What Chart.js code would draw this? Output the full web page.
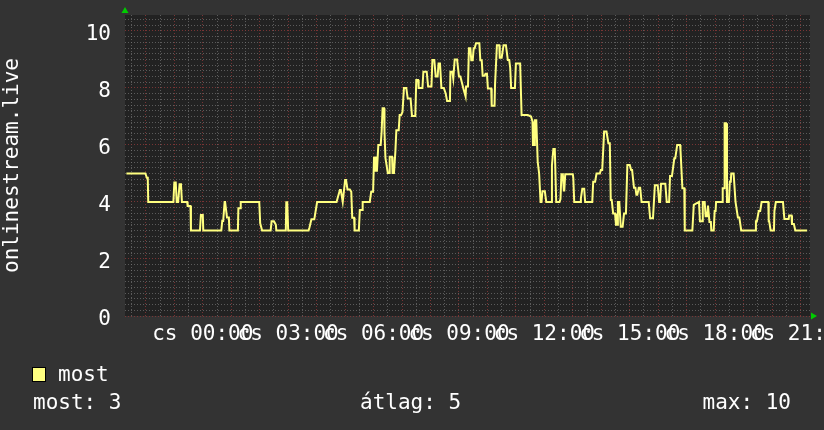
<!DOCTYPE html>
<html><head><meta charset="utf-8">
<script src="https://cdn.jsdelivr.net/npm/chart.js@4.4.0/dist/chart.umd.min.js"></script>
<style>
html,body{margin:0;padding:0;background:#333333;}
canvas{display:block;}
</style></head><body>
<canvas id="c" width="824" height="430"></canvas>
<script>
// ---- data (minutes relative to 00:00 of the labelled day) ----
const seriesName = 'most';
const yAxisTitle = 'onlinestream.live';
const dayPrefix = 'cs';
const minutes = [-161,-121,-118,-116,-115,-62,-60,-57,-55,-52,-49,-46,-44,-33,-32,-26,-25,-6,-4,0,1,39,41,43,46,47,51,55,56,74,75,79,80,119,121,125,143,145,150,154,155,175,176,178,180,223,225,229,235,241,282,284,289,291,295,300,302,305,310,313,315,319,320,329,331,336,337,352,355,359,361,363,365,367,370,375,377,379,382,383,385,390,393,394,399,400,403,406,408,413,415,418,421,424,429,432,438,441,448,450,454,455,463,465,472,475,482,484,488,491,495,497,500,503,508,512,515,521,522,526,528,531,536,540,543,549,554,555,559,561,564,566,569,571,573,576,583,585,588,590,594,596,599,601,608,609,615,616,618,620,625,626,630,634,639,643,646,648,650,658,660,669,672,685,692,695,696,699,700,703,706,709,712,714,716,721,724,735,736,739,742,745,752,754,756,759,761,762,764,780,781,783,796,797,800,804,806,821,823,827,830,837,839,842,846,851,855,858,860,862,865,869,871,874,875,878,881,885,888,892,895,900,903,905,909,912,914,916,919,922,925,940,943,949,953,959,962,964,966,975,978,983,985,989,994,996,1000,1006,1007,1011,1015,1016,1032,1035,1046,1048,1053,1054,1058,1060,1063,1065,1067,1068,1071,1072,1077,1079,1081,1082,1095,1096,1099,1100,1103,1105,1109,1111,1113,1114,1119,1123,1124,1128,1131,1135,1165,1166,1168,1172,1175,1178,1192,1193,1194,1197,1204,1205,1208,1223,1226,1235,1236,1241,1242,1246,1249,1274];
const values = [5.0,5.0,4.85,4.85,4.0,4.0,4.68,4.68,4.0,4.0,4.62,4.62,4.0,4.0,3.86,3.86,3.0,3.0,3.54,3.54,3.0,3.0,3.33,3.33,4.0,4.0,3.46,3.46,3.0,3.0,3.78,3.78,4.0,4.0,3.25,3.0,3.0,3.32,3.32,3.2,3.0,3.0,3.99,3.99,3.0,3.0,3.11,3.39,3.39,4.0,4.0,4.12,4.42,4.42,4.0,4.77,4.77,4.44,4.44,4.36,3.45,3.45,3.0,3.0,3.72,3.72,4.0,4.0,4.36,4.36,5.59,5.06,5.59,5.06,6.0,6.0,6.47,7.29,7.29,6.47,5.55,5.02,5.02,5.59,5.59,5.02,5.02,5.78,6.52,6.52,7.05,7.05,7.16,8.0,8.0,7.63,7.63,7.02,7.02,8.28,8.28,8.0,8.0,8.57,8.57,8.05,8.05,8.98,8.98,8.4,8.4,8.86,8.86,8.0,8.0,7.81,7.54,7.54,8.57,8.57,8.33,9.0,9.0,8.4,8.4,8.0,7.7,8.05,8.05,9.39,9.39,8.97,8.97,9.39,9.39,9.57,9.57,8.97,8.97,8.43,8.43,8.5,8.5,7.98,7.98,7.38,7.38,8.1,8.1,9.5,9.5,9.06,9.06,9.5,9.5,8.98,8.98,8.71,8.0,8.0,8.86,8.86,7.05,7.05,7.0,6.82,6.0,6.0,6.87,6.87,5.41,5.0,4.0,4.0,4.38,4.38,4.0,4.0,5.28,5.86,5.86,4.0,4.0,4.1,4.97,4.97,4.4,4.4,4.97,4.97,4.85,4.0,4.0,4.13,4.46,4.46,4.0,4.0,4.71,4.71,5.0,5.0,5.12,5.12,6.47,6.47,6.06,6.06,4.07,4.07,3.6,3.6,3.2,3.2,4.0,4.0,3.13,3.13,3.6,3.6,5.3,5.3,5.12,5.12,4.5,4.5,4.25,4.25,4.5,4.5,4.0,4.0,3.43,3.43,4.59,4.59,4.0,4.0,4.64,4.64,4.0,4.0,4.91,4.91,5.53,5.53,6.0,6.0,5.82,4.48,4.48,3.0,3.0,3.9,4.0,3.32,3.32,4.0,4.0,3.5,3.5,3.87,3.87,3.3,3.3,3.0,3.0,3.68,3.68,4.0,4.0,4.48,4.48,6.76,6.76,4.0,4.0,4.71,4.71,5.0,5.0,4.0,4.0,3.46,3.46,3.0,3.0,3.32,3.32,3.68,3.68,4.0,4.0,3.32,3.32,3.0,3.0,3.68,4.0,4.0,3.4,3.4,3.53,3.53,3.23,3.23,3.0,3.0];
const xLabelHours = [0,3,6,9,12,15,18,21];
const yLabelValues = [0,2,4,6,8,10];
const statLabels = ['most: 3','átlag: 5','max: 10'];

// ---- styling ----
const FONT = 'DejaVu Sans Mono';
const BG = '#333333', PLOT_BG = '#222222';
const MAJOR = 'rgba(135,55,55,0.85)', MINOR = 'rgba(115,115,115,0.7)';
const LINE = '#ffff80', TXT = '#ffffff', ARROW = '#00cc00';

const points = minutes.map((m, i) => ({x: m, y: values[i]}));

const decor = {
  id: 'decor',
  beforeDraw(chart) {
    const {ctx, chartArea: a} = chart;
    ctx.save();
    ctx.fillStyle = BG; ctx.fillRect(0, 0, chart.width, chart.height);
    ctx.fillStyle = PLOT_BG; ctx.fillRect(a.left, a.top, a.right - a.left, a.bottom - a.top);
    ctx.restore();
  },
  afterDraw(chart) {
    const {ctx, chartArea: a} = chart;
    ctx.save();
    // arrows
    ctx.fillStyle = ARROW;
    ctx.beginPath(); ctx.moveTo(a.left, a.top - 8); ctx.lineTo(a.left - 3.5, a.top - 2); ctx.lineTo(a.left + 3.5, a.top - 2); ctx.closePath(); ctx.fill();
    ctx.beginPath(); ctx.moveTo(a.right + 7, a.bottom); ctx.lineTo(a.right + 1, a.bottom - 3.5); ctx.lineTo(a.right + 1, a.bottom + 3.5); ctx.closePath(); ctx.fill();
    // legend
    ctx.fillStyle = LINE; ctx.fillRect(32.5, 367.5, 13, 14);
    ctx.strokeStyle = '#000'; ctx.lineWidth = 1; ctx.strokeRect(32.5, 367.5, 13, 14);
    ctx.fillStyle = TXT; ctx.font = '21px "' + FONT + '"'; ctx.textBaseline = 'middle'; ctx.textAlign = 'left';
    ctx.fillText(seriesName, 58, 376);
    ctx.fillText(statLabels[0], 33, 404);
    ctx.fillText(statLabels[1], 360, 404);
    ctx.textAlign = 'right';
    ctx.fillText(statLabels[2], 791, 404);
    ctx.restore();
  }
};

new Chart(document.getElementById('c'), {
  type: 'line',
  data: { datasets: [{ label: seriesName, data: points, borderColor: LINE, borderWidth: 2, pointRadius: 0, tension: 0, fill: false }] },
  options: {
    responsive: false, animation: false, devicePixelRatio: 1,
    layout: { padding: { left: 0, right: 14, top: 15, bottom: 0 } },
    plugins: { legend: { display: false }, tooltip: { enabled: false } },
    scales: {
      x: {
        type: 'linear', min: -164, max: 1280,
        afterBuildTicks: s => { const t = []; for (let m = -150; m <= 1260; m += 30) t.push({value: m}); s.ticks = t; },
        afterFit: s => { s.height = 114; s.paddingLeft = 0; s.paddingRight = 0; },
        ticks: {
          autoSkip: false, maxRotation: 0, minRotation: 0, color: TXT, padding: 6,
          font: { family: FONT, size: 21 },
          callback: v => xLabelHours.includes(v / 60) ? dayPrefix + ' ' + String(v / 60).padStart(2, '0') + ':00' : ''
        },
        grid: { color: c => (c.tick && c.tick.value % 60 === 0) ? MAJOR : MINOR, lineWidth: 1, drawTicks: false },
        border: { display: false, dash: [1, 2] }
      },
      y: {
        type: 'linear', min: 0, max: 10.56,
        afterBuildTicks: s => { const t = []; for (let i = 0; i <= 52; i++) t.push({value: Math.round(i * 2) / 10}); s.ticks = t; },
        afterFit: s => { s.width = 125; s.paddingTop = 0; s.paddingBottom = 0; },
        ticks: {
          autoSkip: false, color: TXT, padding: 14,
          font: { family: FONT, size: 21, lineHeight: 0.3 },
          callback: v => yLabelValues.includes(v) ? ['', String(v)] : ''
        },
        grid: { color: c => (c.tick && Math.abs(c.tick.value % 2) < 1e-9) ? MAJOR : MINOR, lineWidth: 1, drawTicks: false },
        border: { display: false, dash: [1, 2] },
        title: { display: true, text: yAxisTitle, color: TXT, font: { family: FONT, size: 21 }, padding: { top: 0, bottom: 0 } }
      }
    }
  },
  plugins: [decor]
});
</script>
</body></html>
